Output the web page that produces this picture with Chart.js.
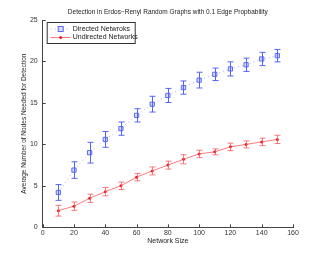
<!DOCTYPE html>
<html>
<head>
<meta charset="utf-8">
<script src="https://cdn.jsdelivr.net/npm/chart.js@4"></script>
<style>
  html, body { margin: 0; padding: 0; background: #fff; }
  #wrap { width: 324px; height: 256px; }
</style>
</head>
<body>
<div id="wrap"><canvas id="chart"></canvas></div>
<script>
// Values
const networkSizes = [10, 20, 30, 40, 50, 60, 70, 80, 90, 100, 110, 120, 130, 140, 150];
const directedMean = [4.2, 6.9, 9.0, 10.6, 11.9, 13.5, 14.85, 15.9, 16.85, 17.75, 18.45, 19.1, 19.6, 20.3, 20.7];
const directedErr = [0.95, 1.0, 1.25, 0.95, 0.8, 0.8, 0.95, 0.85, 0.8, 0.95, 0.75, 0.85, 0.8, 0.8, 0.75];
const undirectedMean = [2.0, 2.55, 3.5, 4.3, 5.0, 6.05, 6.8, 7.5, 8.2, 8.85, 9.1, 9.7, 10.0, 10.3, 10.6];
const undirectedErr = [0.65, 0.5, 0.5, 0.5, 0.45, 0.45, 0.48, 0.48, 0.55, 0.45, 0.36, 0.45, 0.42, 0.45, 0.5];
const xTicks = [0, 20, 40, 60, 80, 100, 120, 140, 160];
const yTicks = [0, 5, 10, 15, 20, 25];
const chartTitle = 'Detection in Erdos\u2212Renyi Random Graphs with 0.1 Edge Propbability';

const FONT = "'Liberation Sans', Arial, sans-serif";
const AXIS_COLOR = '#444';

const toPoints = (xs, ys) => xs.map((x, i) => ({ x: x, y: ys[i] }));

// title centred over the plot area (MATLAB style), not the whole canvas
const plotTitle = {
    id: 'plotTitle',
    afterDraw(chart) {
        const ctx = chart.ctx, a = chart.chartArea;
        ctx.save();
        ctx.font = '6.5px ' + FONT;
        ctx.fillStyle = '#222';
        ctx.textAlign = 'center';
        ctx.textBaseline = 'middle';
        ctx.fillText(chartTitle, (a.left + a.right) / 2, 12);
        ctx.restore();
    }
};

// vertical error bars with caps, placed through the chart scales
const errorBars = {
    id: 'errorBars',
    afterDatasetsDraw(chart) {
        const ctx = chart.ctx;
        const xs = chart.scales.x, ys = chart.scales.y;
        chart.data.datasets.forEach(ds => {
            if (!ds.errors) return;
            ctx.save();
            ctx.strokeStyle = ds.errorColor;
            ctx.lineWidth = 1;
            ds.data.forEach((p, i) => {
                const px = Math.round(xs.getPixelForValue(p.x)) + 0.5;
                const top = ys.getPixelForValue(p.y + ds.errors[i]);
                const bot = ys.getPixelForValue(p.y - ds.errors[i]);
                ctx.beginPath();
                ctx.moveTo(px, top); ctx.lineTo(px, bot);
                ctx.moveTo(px - 3, top); ctx.lineTo(px + 3, top);
                ctx.moveTo(px - 3, bot); ctx.lineTo(px + 3, bot);
                ctx.stroke();
            });
            ctx.restore();
        });
    }
};

// MATLAB-style inward ticks on the left and bottom axes
const inwardTicks = {
    id: 'inwardTicks',
    afterDraw(chart) {
        const ctx = chart.ctx, a = chart.chartArea;
        ctx.save();
        ctx.strokeStyle = AXIS_COLOR;
        ctx.lineWidth = 1;
        ctx.beginPath();
        xTicks.forEach(v => {
            const px = Math.round(chart.scales.x.getPixelForValue(v)) + 0.5;
            ctx.moveTo(px, a.bottom); ctx.lineTo(px, a.bottom - 3);
        });
        yTicks.forEach(v => {
            const py = Math.round(chart.scales.y.getPixelForValue(v)) + 0.5;
            ctx.moveTo(a.left, py); ctx.lineTo(a.left + 3, py);
        });
        ctx.stroke();
        ctx.restore();
    }
};

// boxed legend in the upper-left corner of the plot
const boxLegend = {
    id: 'boxLegend',
    afterDraw(chart) {
        const ctx = chart.ctx, a = chart.chartArea;
        const x0 = a.left + 4, y0 = a.top + 2, w = 88, h = 21;
        ctx.save();
        ctx.fillStyle = '#fff';
        ctx.fillRect(x0, y0, w, h);
        ctx.strokeStyle = '#333';
        ctx.lineWidth = 1;
        ctx.strokeRect(x0 + 0.5, y0 + 0.5, w, h);
        ctx.font = '7px ' + FONT;
        ctx.textBaseline = 'middle';
        chart.data.datasets.forEach((ds, i) => {
            const cy = y0 + 7 + i * 8.5;
            ctx.strokeStyle = ds.borderColor;
            ctx.setLineDash(ds.borderDash || []);
            ctx.beginPath();
            ctx.moveTo(x0 + 4, cy); ctx.lineTo(x0 + 24, cy);
            ctx.stroke();
            ctx.setLineDash([]);
            ctx.strokeStyle = ds.pointBorderColor;
            ctx.fillStyle = ds.pointBackgroundColor;
            if (ds.pointStyle === 'rect') {
                ctx.fillRect(x0 + 11.5, cy - 2.5, 5, 5);
                ctx.strokeRect(x0 + 11.5, cy - 2.5, 5, 5);
            } else {
                ctx.beginPath();
                ctx.arc(x0 + 14, cy, 1.5, 0, Math.PI * 2);
                ctx.fill();
            }
            ctx.fillStyle = '#222';
            ctx.fillText(ds.label, x0 + 26, cy);
        });
        ctx.restore();
    }
};

new Chart(document.getElementById('chart'), {
    type: 'line',
    data: {
        datasets: [{
            label: 'Directed Netwroks',
            data: toPoints(networkSizes, directedMean),
            errors: directedErr,
            errorColor: '#5565f2',
            borderColor: 'rgba(130,145,255,0.7)',
            borderWidth: 1,
            borderDash: [1, 3],
            pointStyle: 'rect',
            pointRadius: 3,
            pointBorderWidth: 1,
            pointBorderColor: '#5a6af5',
            pointBackgroundColor: 'rgba(150,160,255,0.35)'
        }, {
            label: 'Undirected Networks',
            data: toPoints(networkSizes, undirectedMean),
            errors: undirectedErr,
            errorColor: 'rgba(245,80,90,0.75)',
            borderColor: 'rgba(255,90,90,0.8)',
            borderWidth: 1,
            pointStyle: 'circle',
            pointRadius: 1.5,
            pointBorderWidth: 0,
            pointBorderColor: '#e8202a',
            pointBackgroundColor: '#e8202a'
        }]
    },
    options: {
        responsive: true,
        maintainAspectRatio: false,
        animation: false,
        layout: { padding: { left: 20, right: 31, top: 20, bottom: 10.7 } },
        plugins: {
            legend: { display: false },
            tooltip: { enabled: false },
            title: { display: false }
        },
        scales: {
            x: {
                type: 'linear',
                min: 0, max: 160,
                afterFit: s => { s.height = 18; },
                afterBuildTicks: s => { s.ticks = xTicks.map(v => ({ value: v })); },
                grid: { display: false, drawTicks: false },
                border: { display: true, color: AXIS_COLOR, width: 1 },
                ticks: { color: '#333', font: { family: FONT, size: 7 }, padding: 2, maxRotation: 0 },
                title: { display: true, text: 'Network Size', color: '#222', font: { family: FONT, size: 7 }, padding: { top: 0, bottom: 0 } }
            },
            y: {
                min: 0, max: 25,
                afterFit: s => { s.width = 22.7; },
                afterBuildTicks: s => { s.ticks = yTicks.map(v => ({ value: v })); },
                grid: { display: false, drawTicks: false },
                border: { display: true, color: AXIS_COLOR, width: 1 },
                ticks: { color: '#333', font: { family: FONT, size: 7 }, padding: 5 },
                title: { display: true, text: 'Average Number of Nodes Needed for Detection', color: '#222', font: { family: FONT, size: 6.5 }, padding: { top: 0, bottom: 0 } }
            }
        }
    },
    plugins: [plotTitle, errorBars, inwardTicks, boxLegend]
});
</script>
</body>
</html>
